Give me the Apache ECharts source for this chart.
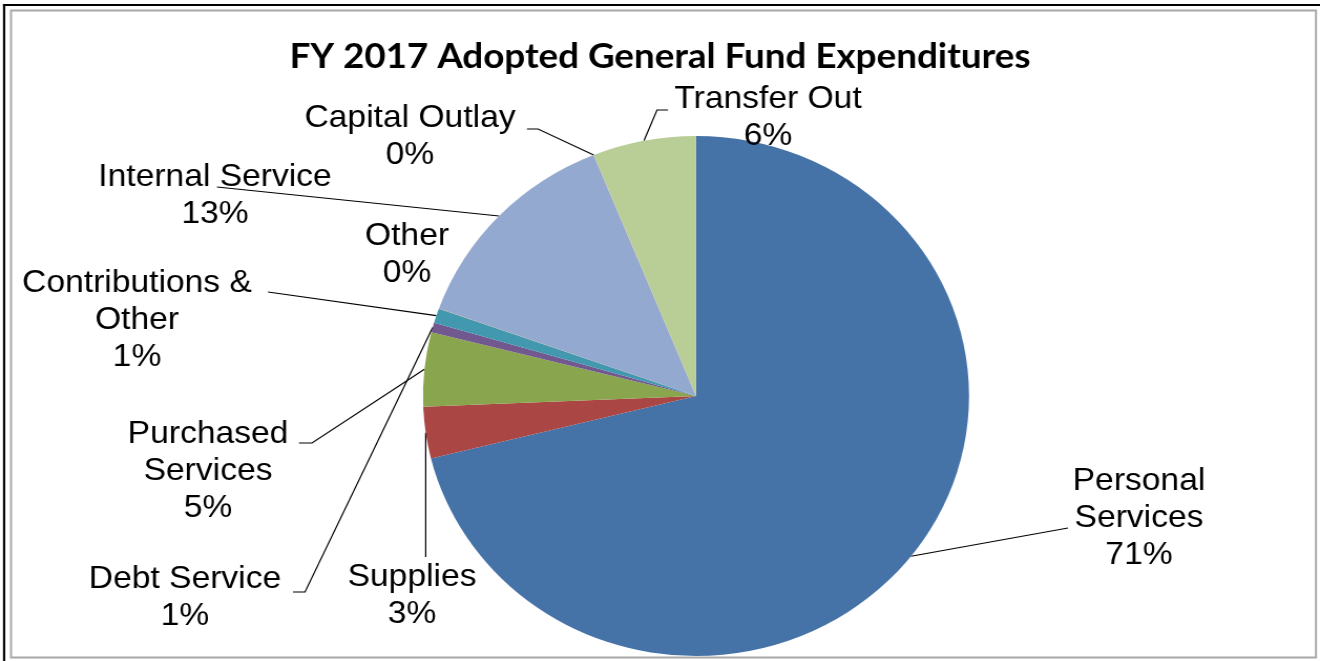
<!DOCTYPE html>
<html>
<head>
<meta charset="utf-8">
<title>FY 2017 Adopted General Fund Expenditures</title>
<script src="https://cdn.jsdelivr.net/npm/echarts@6/dist/echarts.min.js"></script>
<style>
  html, body { margin: 0; padding: 0; background: #ffffff; overflow: hidden; }
  #wrap { width: 1320px; height: 661px; position: relative; overflow: hidden; background: #fff; }
  /* the chart is drawn slightly narrower and widened by CSS, giving an oval pie */
  #chart { width: 1257px; height: 661px; transform: scaleX(1.0501); transform-origin: 0 0; }
</style>
</head>
<body>
<div id="wrap"><div id="chart"></div></div>
<script>
// Expenditure categories, clockwise from 12 o'clock
const categories = [
  'Personal\nServices',
  'Supplies',
  'Purchased\nServices',
  'Debt Service',
  'Contributions &\nOther',
  'Other',
  'Internal Service',
  'Capital Outlay',
  'Transfer Out'
];
// Share of the adopted general fund (percent)
const values = [71.1, 3.2, 4.6, 0.6, 0.9, 0.02, 13.4, 0.02, 6.1];

// Slice palette
const palette = ['#4572A7', '#AA4643', '#89A54E', '#71588F', '#4198AF',
                 '#DB843D', '#93A9CF', '#D19392', '#B9CD96'];

// Page-space label centres and leader-line bends (x in page pixels)
const labelSpots = [
  { x: 1139, y: 518, bends: [[1068, 528]] },
  { x: 412,  y: 596, bends: 'down', toY: 557 },
  { x: 208,  y: 471, bends: [[312, 443], [299, 443]] },
  { x: 185,  y: 598, bends: [[305, 592], [293, 592]] },
  { x: 137,  y: 320, bends: [[268, 292]] },
  { x: 407,  y: 255, bends: null },
  { x: 215,  y: 196, bends: [[217, 187]] },
  { x: 410,  y: 137, bends: [[538, 129], [527, 129]] },
  { x: 768,  y: 118, bends: [[657, 110], [668, 110]] }
];

const STRETCH = 1320 / 1257;
const sx = x => x / STRETCH;

const chart = echarts.init(document.getElementById('chart'), null, { renderer: 'canvas' });

const seriesData = categories.map((name, i) => {
  const item = { name: name, value: values[i], itemStyle: { color: palette[i] } };
  if (labelSpots[i].bends === null) item.labelLine = { show: false };
  return item;
});

chart.setOption({
  backgroundColor: '#ffffff',
  animation: false,
  title: {
    text: 'FY 2017 Adopted General Fund Expenditures',
    left: 'center',
    top: 34,
    textStyle: {
      fontFamily: 'Lato',
      fontWeight: 'bold',
      fontSize: 35,
      color: '#000000'
    }
  },
  graphic: [
    { type: 'rect', silent: true, z: 10,
      shape: { x: sx(11), y: 10.5, width: sx(1316) - sx(11), height: 647 },
      style: { fill: 'none', stroke: '#a8a8a8', lineWidth: 2 } },
    { type: 'rect', silent: true, z: 11,
      shape: { x: sx(3), y: 4, width: sx(1320) - sx(3), height: 2 },
      style: { fill: '#000000' } },
    { type: 'rect', silent: true, z: 11,
      shape: { x: sx(3), y: 4, width: sx(2.2), height: 657 },
      style: { fill: '#000000' } }
  ],
  series: [{
    type: 'pie',
    center: [sx(696), 396],
    radius: 260,
    startAngle: 90,
    clockwise: true,
    avoidLabelOverlap: false,
    minShowLabelAngle: 0,
    itemStyle: { borderWidth: 0 },
    emphasis: { disabled: true },
    label: {
      show: true,
      position: 'outside',
      formatter: p => p.name + '\n' + Math.round(p.percent) + '%',
      fontFamily: 'Liberation Sans, Arial, sans-serif',
      fontSize: 32,
      lineHeight: 37,
      color: '#000000',
      align: 'center'
    },
    labelLine: {
      show: true,
      length: 10,
      length2: 10,
      lineStyle: { color: '#000000', width: 1.2 }
    },
    labelLayout: function (params) {
      const spot = labelSpots[params.dataIndex];
      const out = { x: sx(spot.x), y: spot.y, align: 'center', verticalAlign: 'middle' };
      const pts = params.labelLinePoints;
      if (pts && pts.length && spot.bends) {
        const start = pts[0];
        let line;
        if (spot.bends === 'down') {
          line = [start, [start[0], (start[1] + spot.toY) / 2], [start[0], spot.toY]];
        } else {
          line = [start].concat(spot.bends.map(b => [sx(b[0]), b[1]]));
          if (line.length === 2) line = [line[0], line[1], line[1]];
        }
        out.labelLinePoints = line;
      }
      return out;
    },
    data: seriesData
  }]
});
</script>
</body>
</html>
